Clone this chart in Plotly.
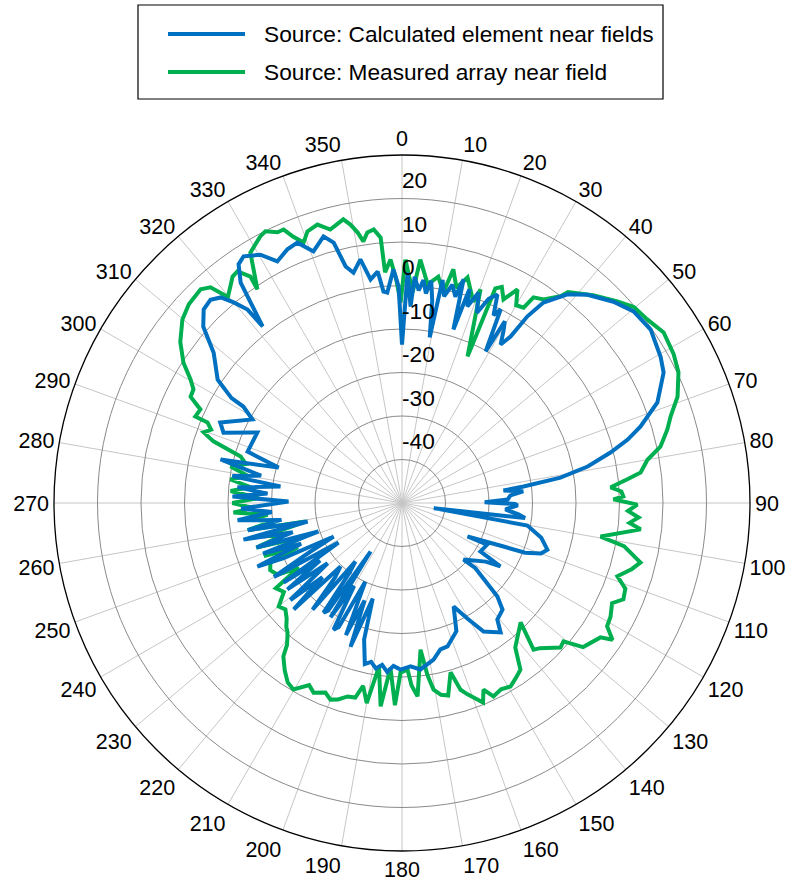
import plotly.graph_objects as go

# Radiation pattern, dB vs azimuth (degrees, clockwise from top)
calc_theta = [0, 1.4, 2.5, 3.2, 4.5, 5.5, 6.5, 7.5, 8.5, 9.5, 10.3, 11.5, 13.0, 14.5, 15.4, 16.5,
              17.5, 18.4, 20.0, 21.5, 23.0, 24.6, 26.0, 27.0, 28.9, 29.5, 30.5, 31.9, 33.1, 33.9,
              35.2, 38.4, 41.7, 46.4, 50.4, 55.1, 60.5, 63.5, 68.5, 72.2, 74.3, 76.4, 78.9, 80.9,
              82.3, 83.0, 84.5, 86.0, 88.1, 89.5, 90.5, 91.2, 93.6, 95.6, 97.0, 99.2, 100.2, 104.0,
              107.8, 110.0, 112.0, 113.2, 117.1, 116.0, 121.7, 122.8, 125.0, 132.6, 131.6, 134.4,
              136.7, 140.7, 142.7, 147.6, 150.5, 153.5, 157.0, 162.4, 165.3, 168.6, 171.0, 173.7,
              177.0, 180.5, 183, 185, 187, 189, 191, 193, 195.5, 197, 199.7, 201, 203, 205, 207,
              208.4, 210, 212, 212.9, 214.5, 215.6, 217, 218.5, 220, 222, 224.1, 225.5, 227, 229,
              231, 233, 235, 236.1, 238.1, 240, 242, 243.9, 245, 246.3, 248, 250, 251.2, 253, 255,
              257, 258.9, 260, 262, 264, 266, 268, 270.8, 272.2, 274, 275.5, 277.7, 279, 281, 283.5,
              286, 288.4, 296.0, 291.5, 293.9, 299.2, 301.3, 301.6, 303.8, 308.6, 311.6, 314.3,
              316.7, 318.6, 320.0, 321.4, 321.7, 323.8, 325.6, 327.3, 330.3, 332.7, 335.7, 338.1,
              340.6, 343.6, 345.3, 346.6, 348.1, 350.3, 352.0, 354.0, 355.0, 356.0, 357.9, 359.1, 360]
calc_db = [-13.6, 3.0, -4.8, 2.1, -1.0, 1.5, -1.5, 1.5, -3.0, -11.4, 2.1, -1.5, 1.5, -1.0, 3.3, -8.4,
           1.5, -2.4, 1.5, -3.0, 1.0, 2.7, -2.0, 0.0, -10.2, -2.0, -4.0, -7.1, -4.3, 1.7,
           6.4, 11.2, 14.1, 17.1, 19.1, 19.7, 18.3, 17.2, 13.1, 7.6, 3.9, -0.7, -6.5, -13.1,
           -21.8, -26.5, -22.0, -25.0, -25.7, -31.0, -24.0, -23.4, -26.2, -23.1, -21.5, -42.6, -20.7, -17.0,
           -14.9, -16.0, -19.5, -24.6, -33.1, -28.2, -28.8, -23.1, -26.5, -30.8, -27.5, -19.3,
           -16.3, -15.4, -12.6, -15.0, -19.5, -23.4, -18.0, -15.4, -15.2, -13.3, -12.5, -11.5,
           -12.4, -11.7, -12.5, -11, -12.5, -11.5, -12.8, -12, -17.4, -27, -14.9, -26, -17, -30, -18,
           -16.9, -28, -19, -36.7, -20, -19, -30, -32.8, -18, -27, -29.7, -15.1, -25, -16,
           -28, -17, -27, -17.2, -32.8, -16, -26, -32.5, -20, -13.7, -25, -16, -29.7, -15, -24,
           -12.6, -27.9, -14, -22, -12, -20, -13, -23.9, -11, -19, -12, -21.8, -10.5, -17, -7.1,
           -20.5, -12.6, -13.0, -5.9, -4.3, -10.6, -7.3, -4.0, 1.0, 5.4, 11.1, 13.7,
           14.2, 13.0, 10.2, 6.9, 1.7, 12.8, 16.5, 17.4, 15.7, 12.5, 14.0, 14.5,
           11.3, 13.9, 11.9, 5.9, 4.1, 6.8, 1.9, 3.5, -1.2, -1.5, 3.7, -0.2, -13.6]

meas_theta = [0.8, 2.9, 4.3, 6.7, 9.1, 11.1, 12.4, 14.2, 16.2, 19.5, 20.2, 24.1, 23.5, 24.8, 26.5,
              28.4, 30.0, 31.9, 32.6, 34.8, 37.5, 38.2, 42.6, 46.9, 49.8, 53.1, 56.9, 61.3, 64.7,
              68.9, 72.1, 74.5, 77.7, 80.0, 82.7, 84.0, 85.7, 87.0, 88.3, 89.0, 90.4, 92.0, 93.5,
              95.0, 96.3, 99.6, 101.0, 104.0, 106.0, 108.8, 111.0, 113.5, 115.5, 118.6, 121.0,
              123.0, 124.1, 128.5, 130.6, 132.4, 136.5, 138.1, 135.2, 141.9, 144.6, 147.0, 149.4,
              152.0, 154.7, 156.4, 157.9, 161.1, 162.6, 164.0, 166.5, 168.5, 170.4, 171.6, 172.8,
              175.4, 177.0, 178.1, 180.5, 182, 184, 186, 188, 190, 192, 193.5, 195.7, 198, 200,
              202, 205, 207, 210.2, 212.5, 215, 217.7, 219, 221.5, 223, 225, 227.6, 230, 233, 236,
              238, 240, 243, 245.7, 247, 249, 251, 253, 255, 256.4, 258, 259.1, 260, 262, 263.8,
              265, 266.8, 268, 270, 272, 274, 276, 277.8, 280, 282, 284, 286.1, 288.1, 289.6, 291,
              292.5, 292.7, 294.9, 296.7, 298.6, 300.3, 302.7, 306, 309.9, 313, 316.7, 318.4,
              319.8, 323.2, 324.6, 326.2, 325.9, 328.8, 332, 333.3, 335.3, 336.6, 337.8, 339.3,
              340.8, 343.1, 345.3, 348.3, 349.5, 350.7, 351.6, 352.7, 354.1, 355.4, 355.8, 357.3,
              358.5, 359.6, 360.8]
meas_db = [6.0, -1.5, 6.1, 0.6, 2.7, -0.7, 5.0, 1.0, 4.0, -0.9, 2.3, -13.1, 3.8, 4.7, 2.3,
           5.8, 2.5, 2.9, 6.1, 7.0, 9.9, 11.7, 14.9, 17.8, 19.8, 20.4, 21.8, 21.2, 20.3,
           17.9, 14.9, 13.3, 10.8, 7.3, 5.3, 2.1, -1.9, 0.5, 0.9, -1.4, 4.1, 2.0, 4.5,
           2.5, 5.2, -3.7, 2.0, 6.5, 5.0, 2.3, 5.0, 5.5, 3.5, 4.6, 5.0,
           7.7, 5.1, 3.2, -1.1, -0.7, -4.0, -4.7, -11.3, -7.8, -3.0, -2.0, -1.0,
           -1.5, -0.8, -3.2, -0.5, -3.5, -5.0, -9.5, -4.5, -5.0, -6.5, -10.0, -16.0,
           -5.4, -8.0, -11.7, -11.0, -3.5, -12, -3, -12, -3.3, -7, -4, -3.8, -2.5, -1.9,
           -3, -1.9, -3, -0.4, -1.1, -3, -5.4, -8, -10.3, -11, -12.5, -13.7, -13, -16, -15,
           -22, -17, -16, -16.8, -24, -16, -26, -15, -22, -17.2, -24, -27.4, -14, -20, -15,
           -19, -11.2, -16, -11, -17, -10.5, -15, -10.2, -14, -9.7, -13, -11.4, -4.4, -1.6, -3,
           -1.6, 1.5, 1.1, 4.4, 4.6, 6.3, 9.7, 13, 15.8, 17, 17.5, 16.3,
           12, 15, 15.3, 12.6, 9.3, 17.3, 19.4, 19.9, 18.5, 18.5, 16.1, 14,
           16.1, 16.9, 15, 16.6, 15.1, 13, 10.8, 12.7, 13.2, 11.2, 3.2, 6,
           1.5, -3.9, 6.0]

calc_name = "Source: Calculated element near fields"
meas_name = "Source: Measured array near field"
calc_color = "#0070C0"
meas_color = "#00B050"

r_min, r_max = -50, 30
r_ticks = [-40, -30, -20, -10, 0, 10, 20]
theta_ticks = list(range(0, 360, 10))
r_label_lift = 1.0        # magnitude labels sit a little above their ring

FONT = "Liberation Sans, Arial, sans-serif"
FS = 22.7                 # legend and magnitude labels
FS_ANG = 21.5             # angle labels round the rim
W, H = 792, 882
M = dict(l=54, r=42, t=155, b=31)
PW = W - M["l"] - M["r"]
PH = H - M["t"] - M["b"]


def px_x(x):
    return (x - M["l"]) / PW


def px_y(y):
    return (H - M["b"] - y) / PH


fig = go.Figure()

# measured drawn first so the calculated curve sits on top
fig.add_trace(go.Scatterpolar(theta=meas_theta, r=meas_db, mode="lines", name=meas_name,
                              line=dict(color=meas_color, width=4), showlegend=False))
fig.add_trace(go.Scatterpolar(theta=calc_theta, r=calc_db, mode="lines", name=calc_name,
                              line=dict(color=calc_color, width=4), showlegend=False))

# magnitude labels along the 0-degree spoke
fig.add_trace(go.Scatterpolar(theta=[0] * len(r_ticks), r=[v + r_label_lift for v in r_ticks],
                              mode="text", text=[str(v) for v in r_ticks],
                              textposition="top right",
                              textfont=dict(family=FONT, size=FS, color="black"),
                              showlegend=False, hoverinfo="skip"))

# boxed legend above the dial
shapes = [dict(type="rect", xref="paper", yref="paper", x0=px_x(138), x1=px_x(663),
               y0=px_y(99), y1=px_y(5), line=dict(color="black", width=1.2), fillcolor="white")]
annotations = []
for name, color, ypx in [(calc_name, calc_color, 34), (meas_name, meas_color, 72)]:
    shapes.append(dict(type="line", xref="paper", yref="paper", x0=px_x(168), x1=px_x(245),
                       y0=px_y(ypx), y1=px_y(ypx), line=dict(color=color, width=4)))
    annotations.append(dict(xref="paper", yref="paper", x=px_x(262), y=px_y(ypx), text=name,
                            showarrow=False, xanchor="left", yanchor="middle",
                            font=dict(family=FONT, size=FS, color="black")))

fig.update_layout(
    width=W, height=H, margin=M,
    paper_bgcolor="white", plot_bgcolor="white",
    font=dict(family=FONT, size=FS, color="black"),
    shapes=shapes, annotations=annotations,
    polar=dict(
        domain=dict(x=[0, 1], y=[0, 1]),
        bgcolor="white",
        angularaxis=dict(direction="clockwise", rotation=90,
                         tickmode="array", tickvals=theta_ticks,
                         ticktext=[str(t) for t in theta_ticks],
                         tickfont=dict(family=FONT, size=FS_ANG, color="black"),
                         showgrid=True, gridcolor="#c6c6c6", gridwidth=1,
                         showline=True, linecolor="black", linewidth=1.3, ticks=""),
        radialaxis=dict(range=[r_min, r_max], tickmode="array", tickvals=r_ticks,
                        showticklabels=False, ticks="", showline=False,
                        showgrid=True, gridcolor="#8a8a8a", gridwidth=1.3),
    ),
)

fig.write_html("out.html")
